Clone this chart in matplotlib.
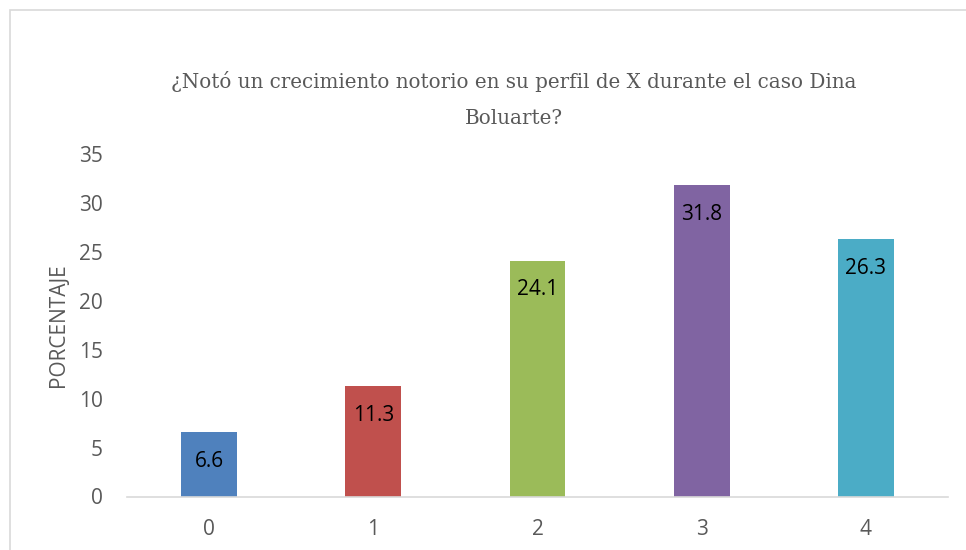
import matplotlib.pyplot as plt
from matplotlib.patches import Rectangle

categories = ["0", "1", "2", "3", "4"]
values = [6.6, 11.3, 24.1, 31.8, 26.3]
colors = ["#4F81BD", "#C0504D", "#9BBB59", "#8064A2", "#4BACC6"]
title_lines = ["¿Notó un crecimiento notorio en su perfil de X durante el caso Dina", "Boluarte?"]
ylabel = "PORCENTAJE"

W, H = 966, 550
fig = plt.figure(figsize=(W / 100, H / 100), dpi=100)
fig.patches.append(Rectangle((10 / W, -0.1), 1.2, (H - 10) / H + 0.1, transform=fig.transFigure,
                             fill=False, edgecolor="#D9D9D9", linewidth=1.2))

left, right, bottom, top = 127, 948, 496.5, 154
ax = fig.add_axes([left / W, 1 - bottom / H, (right - left) / W, (bottom - top) / H])
x = range(len(categories))
bars = ax.bar(x, values, width=0.34, color=colors)
ax.set_xlim(-0.5, len(categories) - 0.5)
ax.set_ylim(0, 35)
ax.set_yticks(range(0, 36, 5))
ax.set_xticks(list(x))
ax.set_xticklabels(categories)

for s in ["top", "right", "left"]:
    ax.spines[s].set_visible(False)
ax.spines["bottom"].set_color("#D9D9D9")
ax.spines["bottom"].set_linewidth(1.2)
ax.tick_params(axis="both", length=0, labelsize=15, labelcolor="#595959")
ax.tick_params(axis="x", pad=16)
ax.tick_params(axis="y", pad=17.5)
for lab in ax.get_xticklabels() + ax.get_yticklabels():
    lab.set_family("Open Sans")

ax.set_ylabel(ylabel, fontsize=15, color="#595959", family="Open Sans", labelpad=7)

for b, v in zip(bars, values):
    ax.annotate(f"{v}", (b.get_x() + b.get_width() / 2, v), xytext=(0, -21),
                textcoords="offset points", ha="center", va="center",
                fontsize=15, color="black", family="Open Sans")

for i, line in enumerate(title_lines):
    fig.text(513.5 / W, 1 - (88 + 36 * i) / H, line, ha="center", va="baseline", fontsize=14.3,
             color="#595959", family="DejaVu Serif")

fig.savefig("out.png", dpi=100)
